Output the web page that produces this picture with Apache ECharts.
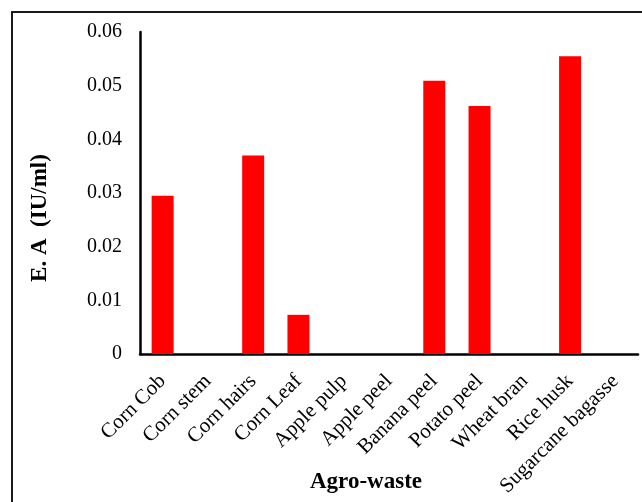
<!DOCTYPE html>
<html>
<head>
<meta charset="utf-8">
<script src="https://cdn.jsdelivr.net/npm/echarts@6/dist/echarts.min.js"></script>
<style>
  html, body { margin: 0; padding: 0; background: #fff; }
  #chart { width: 642px; height: 502px; }
</style>
</head>
<body>
<div id="chart"></div>
<script>
// Enzyme activity measured on each agro-waste substrate
const categories = ['Corn Cob', 'Corn stem', 'Corn hairs', 'Corn Leaf', 'Apple pulp', 'Apple peel',
  'Banana peel', 'Potato peel', 'Wheat bran', 'Rice husk', 'Sugarcane bagasse'];
const activity = [0.0295, 0, 0.037, 0.0073, 0, 0, 0.0509, 0.0462, 0, 0.0555, 0];
const yTicks = { min: 0, max: 0.06, interval: 0.01 };

const serif = '"Liberation Serif", "Times New Roman", serif';
const chart = echarts.init(document.getElementById('chart'), null, { renderer: 'canvas' });

chart.setOption({
  backgroundColor: '#fff',
  animation: false,
  graphic: [{
    type: 'rect',
    shape: { x: 12, y: 12, width: 700, height: 600 },
    style: { fill: 'none', stroke: '#1a1a1a', lineWidth: 2 },
    silent: true
  }],
  grid: { left: 140, right: 4, top: 32, bottom: 148, containLabel: false, outerBoundsMode: 'none' },
  xAxis: {
    type: 'category',
    data: categories,
    name: 'Agro-waste',
    nameLocation: 'middle',
    nameGap: 117,
    nameMoveOverlap: false,
    nameTextStyle: { fontFamily: serif, fontWeight: 'bold', fontSize: 23, color: '#000', padding: [0, 46, 0, 0] },
    axisLine: { lineStyle: { color: '#000', width: 2.5 } },
    axisTick: { show: false },
    axisLabel: { rotate: 45, interval: 0, margin: 24, fontFamily: serif, fontSize: 21, color: '#000' }
  },
  yAxis: {
    type: 'value',
    min: yTicks.min,
    max: yTicks.max,
    interval: yTicks.interval,
    name: 'E. A  (IU/ml)',
    nameLocation: 'middle',
    nameGap: 88,
    nameMoveOverlap: false,
    nameTextStyle: { fontFamily: serif, fontWeight: 'bold', fontSize: 23, color: '#000', padding: [0, 50, 0, 0] },
    axisLine: { show: true, lineStyle: { color: '#000', width: 2.5 } },
    axisTick: { show: false },
    splitLine: { show: false },
    axisLabel: {
      margin: 18, fontFamily: serif, fontSize: 20, color: '#000',
      formatter: v => (v === 0 ? '0' : v.toFixed(2))
    }
  },
  series: [{
    type: 'bar',
    data: activity,
    barWidth: 22,
    itemStyle: { color: '#ff0000' }
  }]
});
</script>
</body>
</html>
